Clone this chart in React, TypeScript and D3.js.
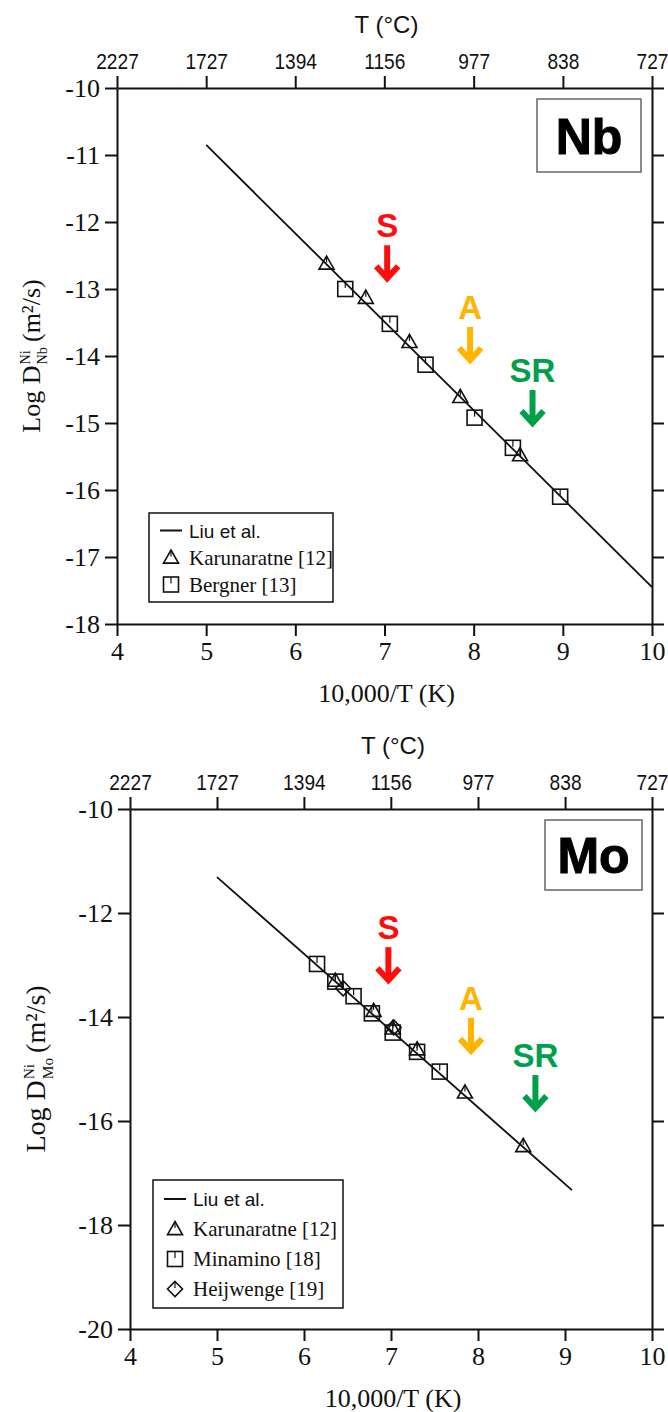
import { useEffect, useRef } from 'react';
import * as d3 from 'd3';

// top axis: temperature in °C, placed at 10000/(T+273)
const tempTicksC = [2227, 1727, 1394, 1156, 977, 838, 727];
const invTTicks = [4, 5, 6, 7, 8, 9, 10];

// Nb panel
const nbYTicks = [-10, -11, -12, -13, -14, -15, -16, -17, -18];
const nbLiu = [[5, -10.85], [10, -17.45]];
const nbKarunaratne = [[6.35, -12.62], [6.79, -13.13], [7.28, -13.79], [7.85, -14.61], [8.52, -15.48]];
const nbBergner = [[6.56, -13.0], [7.06, -13.52], [7.46, -14.13], [8.01, -14.92], [8.44, -15.37], [8.97, -16.1]];
const nbArrows = [
  { label: 'S', x: 7.03, tip: -12.87 },
  { label: 'A', x: 7.96, tip: -14.09 },
  { label: 'SR', x: 8.66, tip: -15.03 },
];

// Mo panel
const moYTicks = [-10, -12, -14, -16, -18, -20];
const moLiu = [[5, -11.31], [9.08, -17.33]];
const moKarunaratne = [[6.36, -13.3], [6.8, -13.88], [7.02, -14.22], [7.3, -14.62], [7.85, -15.45], [8.52, -16.48]];
const moMinamino = [[6.15, -12.98], [6.36, -13.32], [6.57, -13.6], [6.78, -13.93], [7.02, -14.3], [7.3, -14.67], [7.56, -15.05]];
const moHeijwenge = [[6.45, -13.45], [7.03, -14.2]];
const moArrows = [
  { label: 'S', x: 6.97, tip: -13.33 },
  { label: 'A', x: 7.92, tip: -14.69 },
  { label: 'SR', x: 8.66, tip: -15.79 },
];

const arrowColors: Record<string, string> = { S: '#ff0d0d', A: '#ffb400', SR: '#00a04a' };

const SERIF = '"Liberation Serif", "Times New Roman", serif';
const SANS = '"Liberation Sans", Arial, sans-serif';

type Pt = number[];
interface PanelCfg {
  element: string;
  top: number; bottom: number; left: number; right: number;
  yDomain: [number, number];
  yTicks: number[];
  liu: Pt[];
  series: { name: string; shape: string; data: Pt[] }[];
  arrows: { label: string; x: number; tip: number }[];
  legend: { x: number; y: number; w: number; rowH: number };
  box: { x: number; y: number; w: number; h: number };
  labelX: number;
  labelSize: number;
}

const panels: PanelCfg[] = [
  {
    element: 'Nb', top: 88, bottom: 624, left: 117, right: 652,
    yDomain: [-18, -10], yTicks: nbYTicks, liu: nbLiu,
    series: [
      { name: 'Karunaratne [12]', shape: 'triangle', data: nbKarunaratne },
      { name: 'Bergner [13]', shape: 'square', data: nbBergner },
    ],
    arrows: nbArrows,
    legend: { x: 149, y: 513, w: 184, rowH: 27 },
    box: { x: 537, y: 99, w: 104, h: 73 },
    labelX: 40, labelSize: 26,
  },
  {
    element: 'Mo', top: 809, bottom: 1329, left: 130, right: 652,
    yDomain: [-20, -10], yTicks: moYTicks, liu: moLiu,
    series: [
      { name: 'Karunaratne [12]', shape: 'triangle', data: moKarunaratne },
      { name: 'Minamino [18]', shape: 'square', data: moMinamino },
      { name: 'Heijwenge [19]', shape: 'diamond', data: moHeijwenge },
    ],
    arrows: moArrows,
    legend: { x: 153, y: 1180, w: 190, rowH: 30 },
    box: { x: 545, y: 820, w: 97, h: 70 },
    labelX: 45, labelSize: 28,
  },
];

function drawMarker(g: any, shape: string, cx: number, cy: number) {
  const s = 7.5;
  if (shape === 'triangle') {
    g.append('path')
      .attr('d', `M${cx},${cy - s}L${cx + s},${cy + s * 0.75}L${cx - s},${cy + s * 0.75}Z`)
      .attr('fill', 'none').attr('stroke', '#111').attr('stroke-width', 1.6);
  } else if (shape === 'square') {
    g.append('rect')
      .attr('x', cx - s).attr('y', cy - s).attr('width', 2 * s).attr('height', 2 * s)
      .attr('fill', 'none').attr('stroke', '#111').attr('stroke-width', 1.6);
  } else {
    g.append('path')
      .attr('d', `M${cx},${cy - s}L${cx + s},${cy}L${cx},${cy + s}L${cx - s},${cy}Z`)
      .attr('fill', 'none').attr('stroke', '#111').attr('stroke-width', 1.6);
  }
  // error bar stub
  g.append('line')
    .attr('x1', cx).attr('x2', cx).attr('y1', cy - s).attr('y2', cy - 1)
    .attr('stroke', '#111').attr('stroke-width', 1.2);
}

function drawPanel(svg: any, p: PanelCfg) {
  const x = d3.scaleLinear().domain([4, 10]).range([p.left, p.right]);
  const y = d3.scaleLinear().domain(p.yDomain).range([p.bottom, p.top]);
  const g = svg.append('g');

  const styleAxis = (a: any, font: string, size: number) => {
    a.select('.domain').attr('stroke', '#111').attr('stroke-width', 2);
    a.selectAll('.tick line').attr('stroke', '#111').attr('stroke-width', 2);
    a.selectAll('.tick text').attr('fill', '#111').attr('font-family', font).attr('font-size', size);
  };

  // bottom axis
  const xb = g.append('g').attr('transform', `translate(0,${p.bottom})`)
    .call(d3.axisBottom(x).tickValues(invTTicks).tickSize(12).tickSizeOuter(0).tickPadding(6).tickFormat(d3.format('d')));
  styleAxis(xb, SERIF, 26);

  // top axis in °C (slightly condensed labels)
  const xt = g.append('g').attr('transform', `translate(0,${p.top})`)
    .call(d3.axisTop(x).tickValues(tempTicksC.map(c => 10000 / (c + 273)))
      .tickSize(12).tickSizeOuter(0).tickPadding(7)
      .tickFormat((d: any, i: number) => String(tempTicksC[i])));
  styleAxis(xt, SANS, 22);
  xt.selectAll('.tick text').attr('transform', 'scale(0.87,1)');

  // left axis
  const yl = g.append('g').attr('transform', `translate(${p.left},0)`)
    .call(d3.axisLeft(y).tickValues(p.yTicks).tickSize(12).tickSizeOuter(0).tickPadding(5).tickFormat(d3.format('d')));
  styleAxis(yl, SERIF, 26);
  yl.selectAll('.tick text').text((d: any) => String(d));

  // right axis
  const yr = g.append('g').attr('transform', `translate(${p.right},0)`)
    .call(d3.axisRight(y).tickValues(p.yTicks).tickSize(12).tickSizeOuter(0).tickFormat(() => ''));
  styleAxis(yr, SERIF, 26);

  // axis titles
  g.append('text').attr('x', (p.left + p.right) / 2 + 2).attr('y', p.top - 55)
    .attr('text-anchor', 'middle').attr('font-family', SANS).attr('font-size', 24).attr('fill', '#111')
    .text('T (°C)');
  g.append('text').attr('x', (p.left + p.right) / 2 + 2).attr('y', p.bottom + 78)
    .attr('text-anchor', 'middle').attr('font-family', SERIF).attr('font-size', 26).attr('fill', '#111')
    .text('10,000/T (K)');

  // y label
  const lg = g.append('g').attr('transform', `translate(${p.labelX},${(p.top + p.bottom) / 2}) rotate(-90)`);
  const inner = lg.append('g');
  const fs = p.labelSize;
  const t1 = inner.append('text').attr('font-family', SERIF).attr('font-size', fs).attr('fill', '#111').text('Log D');
  const w1 = (t1.node() as SVGTextElement).getComputedTextLength();
  const sup = inner.append('text').attr('x', w1 + 1).attr('y', -fs * 0.4).attr('font-family', SERIF)
    .attr('font-size', fs * 0.55).attr('fill', '#111').text('Ni');
  const sub = inner.append('text').attr('x', w1 + 1).attr('y', fs * 0.28).attr('font-family', SERIF)
    .attr('font-size', fs * 0.55).attr('fill', '#111').text(p.element);
  const w2 = Math.max((sup.node() as SVGTextElement).getComputedTextLength(), (sub.node() as SVGTextElement).getComputedTextLength());
  const t3 = inner.append('text').attr('x', w1 + w2 + 6).attr('font-family', SERIF).attr('font-size', fs)
    .attr('fill', '#111').text('(m²/s)');
  const total = w1 + w2 + 6 + (t3.node() as SVGTextElement).getComputedTextLength();
  inner.attr('transform', `translate(${-total / 2},0)`);

  // Liu et al. line
  const line = d3.line<Pt>().x(d => x(d[0])).y(d => y(d[1]));
  g.append('path').datum(p.liu).attr('d', line).attr('fill', 'none').attr('stroke', '#111').attr('stroke-width', 1.8);

  // data markers
  p.series.forEach(s => {
    s.data.forEach(d => drawMarker(g, s.shape, x(d[0]), y(d[1])));
  });

  // element box
  g.append('rect').attr('x', p.box.x).attr('y', p.box.y).attr('width', p.box.w).attr('height', p.box.h)
    .attr('fill', '#fff').attr('stroke', '#666').attr('stroke-width', 1.5);
  g.append('text').attr('x', p.box.x + p.box.w / 2).attr('y', p.box.y + p.box.h / 2 + 18)
    .attr('text-anchor', 'middle').attr('font-family', SANS).attr('font-weight', 'bold')
    .attr('font-size', 50).attr('fill', '#000').attr('stroke', '#000').attr('stroke-width', 1)
    .text(p.element);

  // S / A / SR arrows
  p.arrows.forEach(a => {
    const ax = x(a.x);
    const tip = y(a.tip);
    const col = arrowColors[a.label];
    g.append('line').attr('x1', ax).attr('x2', ax).attr('y1', tip - 35).attr('y2', tip - 2)
      .attr('stroke', col).attr('stroke-width', 6);
    g.append('path').attr('d', `M${ax - 11},${tip - 14}L${ax},${tip - 2}L${ax + 11},${tip - 14}`)
      .attr('fill', 'none').attr('stroke', col).attr('stroke-width', 6).attr('stroke-linejoin', 'miter');
    g.append('text').attr('x', ax).attr('y', tip - 43).attr('text-anchor', 'middle')
      .attr('font-family', SANS).attr('font-weight', 'bold').attr('font-size', 33).attr('fill', col)
      .text(a.label);
  });

  // legend
  const L = p.legend;
  const rows = 1 + p.series.length;
  g.append('rect').attr('x', L.x).attr('y', L.y).attr('width', L.w).attr('height', rows * L.rowH + 8)
    .attr('fill', '#fff').attr('stroke', '#111').attr('stroke-width', 1.5);
  const cy0 = L.y + 4 + L.rowH / 2;
  g.append('line').attr('x1', L.x + 11).attr('x2', L.x + 33).attr('y1', cy0).attr('y2', cy0)
    .attr('stroke', '#111').attr('stroke-width', 2);
  g.append('text').attr('x', L.x + 40).attr('y', cy0 + 7).attr('font-family', SANS).attr('font-size', 19)
    .attr('fill', '#111').text('Liu et al.');
  p.series.forEach((s, i) => {
    const cy = cy0 + (i + 1) * L.rowH;
    drawMarker(g, s.shape, L.x + 22, cy);
    g.append('text').attr('x', L.x + 40).attr('y', cy + 7).attr('font-family', SERIF).attr('font-size', 21)
      .attr('fill', '#111').text(s.name);
  });
}

export default function App() {
  const svgRef = useRef<SVGSVGElement>(null);

  useEffect(() => {
    if (!svgRef.current) return;
    const svg = d3.select(svgRef.current);
    svg.selectAll('*').remove();
    svg.append('rect').attr('width', 668).attr('height', 1412).attr('fill', '#fff');
    panels.forEach(p => drawPanel(svg, p));
  }, []);

  return (
    <div style={{ position: 'absolute', left: 0, top: 0 }}>
      <svg ref={svgRef} width={668} height={1412} style={{ display: 'block' }} />
    </div>
  );
}
